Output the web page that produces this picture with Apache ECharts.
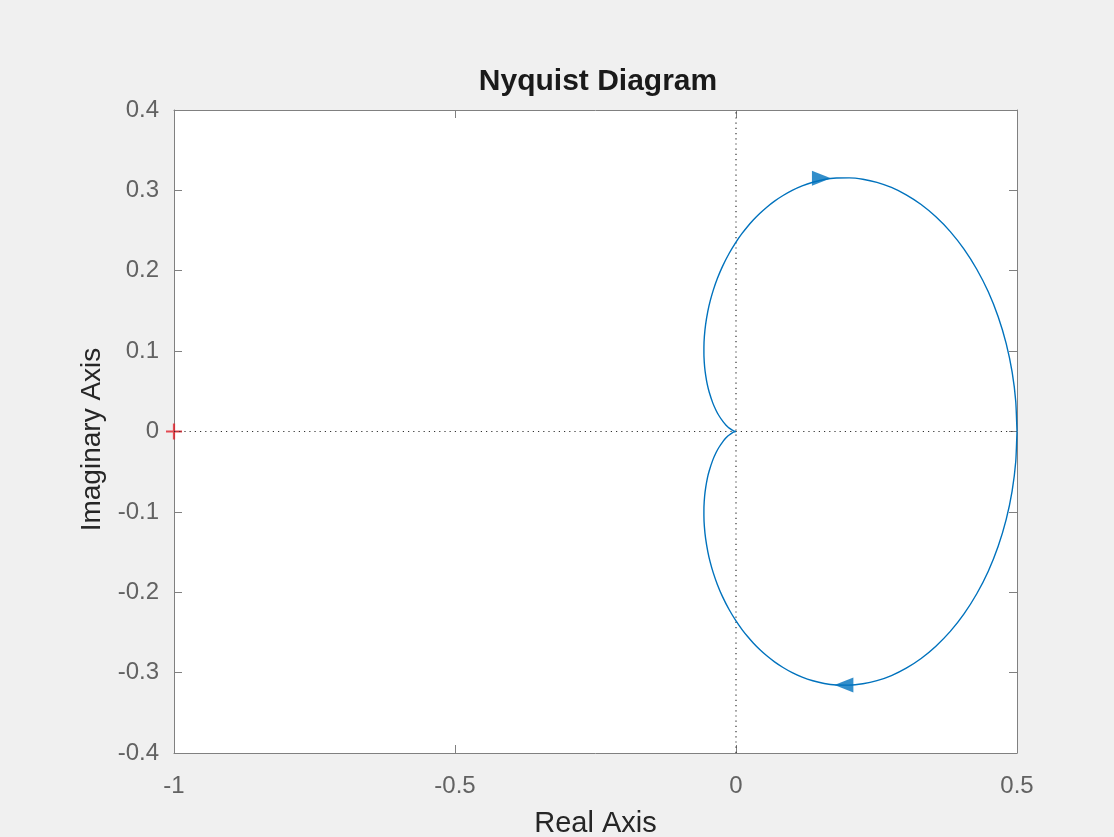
<!DOCTYPE html>
<html>
<head>
<meta charset="utf-8">
<script src="https://cdn.jsdelivr.net/npm/echarts@6/dist/echarts.min.js"></script>
<style>
html,body{margin:0;padding:0;background:#f0f0f0;}
#chart{width:1114px;height:837px;}
</style>
</head>
<body>
<div id="chart"></div>
<script>
// Lower branch (positive frequencies): from (0.5, 0) to the origin
const lowerBranch = [
  [0.5,0],[0.4978,-0.0374],[0.4913,-0.0741],[0.4808,-0.1094],[0.4665,-0.1428],[0.4489,-0.1738],
  [0.4284,-0.2019],[0.4057,-0.2269],[0.3813,-0.2487],[0.3557,-0.2671],[0.3294,-0.2824],[0.3029,-0.2944],
  [0.2766,-0.3036],[0.2508,-0.31],[0.2257,-0.3139],[0.2016,-0.3156],[0.1787,-0.3154],[0.157,-0.3135],
  [0.1367,-0.3101],[0.1177,-0.3056],[0.1,-0.3],[0.0837,-0.2936],[0.0686,-0.2866],[0.0548,-0.2791],
  [0.0422,-0.2712],[0.0307,-0.2631],[0.0203,-0.2548],[0.0108,-0.2464],[0,-0.2357],[-0.0123,-0.2215],
  [-0.024,-0.2055],[-0.0332,-0.1903],[-0.0404,-0.1759],[-0.0459,-0.1625],[-0.05,-0.15],[-0.0541,-0.133],
  [-0.0563,-0.1181],[-0.0571,-0.1049],[-0.057,-0.0934],[-0.0558,-0.0803],[-0.0538,-0.0692],[-0.0509,-0.0579],
  [-0.0476,-0.0488],[-0.0412,-0.0353],[-0.0354,-0.0262],[-0.0305,-0.0199],[-0.023,-0.0122],[-0.0177,-0.0079],
  [-0.014,-0.0054],[-0.0093,-0.0029],[-0.0066,-0.0017],[-0.0043,-0.0009],[-0.0025,-0.0004],[-0.0011,-0.0003],[0,0]
];
// Upper branch (negative frequencies): from the origin to (0.5, 0)
const upperBranch = [
  [0,0],[-0.0011,0.0003],[-0.0025,0.0004],[-0.0043,0.0009],[-0.0066,0.0017],[-0.0093,0.0029],
  [-0.014,0.0054],[-0.0177,0.0079],[-0.023,0.0122],[-0.0305,0.0199],[-0.0354,0.0262],[-0.0412,0.0353],
  [-0.0476,0.0488],[-0.0509,0.0579],[-0.0538,0.0692],[-0.0558,0.0803],[-0.057,0.0934],[-0.0571,0.1049],
  [-0.0563,0.1181],[-0.0541,0.133],[-0.05,0.15],[-0.0459,0.1625],[-0.0404,0.1759],[-0.0332,0.1903],
  [-0.024,0.2055],[-0.0123,0.2215],[0,0.2357],[0.0108,0.2464],[0.0203,0.2548],[0.0307,0.2631],
  [0.0422,0.2712],[0.0548,0.2791],[0.0686,0.2866],[0.0837,0.2936],[0.1,0.3],[0.1177,0.3056],
  [0.1367,0.3101],[0.157,0.3135],[0.1787,0.3154],[0.2016,0.3156],[0.2257,0.3139],[0.2508,0.31],
  [0.2766,0.3036],[0.3029,0.2944],[0.3294,0.2824],[0.3557,0.2671],[0.3813,0.2487],[0.4057,0.2269],
  [0.4284,0.2019],[0.4489,0.1738],[0.4665,0.1428],[0.4808,0.1094],[0.4913,0.0741],[0.4978,0.0374],[0.5,0]
];
const arrowRight = [[0.152, 0.315]];
const arrowLeft = [[0.192, -0.3154]];
const criticalPoint = [[-1, 0]];
const zeroH = [[-1, 0], [0.5, 0]];
const zeroV = [[0, -0.4], [0, 0.4]];
const xTicks = [-1, 0.5, 0.5];   // min, max, interval
const yTicks = [-0.4, 0.4, 0.1]; // min, max, interval

const FONT = '"Liberation Sans", Arial, Helvetica, sans-serif';
const axisGray = '#808080';
const labelGray = '#626262';
const blue = '#0072BD';

const chart = echarts.init(document.getElementById('chart'), null, {renderer: 'canvas'});

function axisCommon(extra) {
  return Object.assign({
    type: 'value',
    axisLine: {show: true, onZero: false, lineStyle: {color: axisGray, width: 1}},
    axisTick: {show: true, inside: true, length: 8, lineStyle: {color: axisGray}},
    splitLine: {show: false}
  }, extra);
}

const option = {
  backgroundColor: '#f0f0f0',
  animation: false,
  title: {
    text: 'Nyquist Diagram',
    left: 593, top: 62, textAlign: 'center',
    textStyle: {fontFamily: FONT, fontSize: 30, fontWeight: 'bold', color: '#1a1a1a'}
  },
  grid: {left: 174, top: 110, right: 97, bottom: 84, show: true, backgroundColor: '#ffffff',
    borderWidth: 0, containLabel: false, outerBoundsMode: 'none'},
  xAxis: [
    axisCommon({
      position: 'bottom', min: xTicks[0], max: xTicks[1], interval: xTicks[2],
      name: 'Real Axis', nameLocation: 'middle', nameGap: 56,
      nameTextStyle: {fontFamily: FONT, fontSize: 29, color: '#262626'},
      axisLabel: {fontFamily: FONT, fontSize: 24, color: labelGray, margin: 21,
        formatter: v => String(Math.round(v * 10) / 10)}
    }),
    axisCommon({
      position: 'top', min: xTicks[0], max: xTicks[1], interval: xTicks[2],
      axisLabel: {show: false}
    })
  ],
  yAxis: [
    axisCommon({
      position: 'left', min: yTicks[0], max: yTicks[1], interval: yTicks[2],
      name: 'Imaginary Axis', nameLocation: 'middle', nameGap: 64,
      nameTextStyle: {fontFamily: FONT, fontSize: 28, color: '#262626', padding: [0, 16, 0, 0]},
      axisLabel: {fontFamily: FONT, fontSize: 24, color: labelGray, margin: 15, padding: [4, 0, 0, 0],
        formatter: v => String(Math.round(v * 10) / 10)}
    }),
    axisCommon({
      position: 'right', min: yTicks[0], max: yTicks[1], interval: yTicks[2],
      axisLabel: {show: false}
    })
  ],
  series: [
    {type: 'line', data: zeroH, symbol: 'none', silent: true,
      lineStyle: {color: '#333', width: 1.2, type: [1.2, 4]}},
    {type: 'line', data: zeroV, symbol: 'none', silent: true,
      lineStyle: {color: '#333', width: 1.2, type: [1.2, 4]}},
    {type: 'line', data: lowerBranch, symbol: 'none', smooth: 0.15, lineStyle: {color: blue, width: 1.4}},
    {type: 'line', data: upperBranch, symbol: 'none', smooth: 0.15, lineStyle: {color: blue, width: 1.4}},
    {type: 'scatter', data: arrowRight, symbol: 'triangle', symbolSize: [15, 19], symbolRotate: -90,
      itemStyle: {color: blue}},
    {type: 'scatter', data: arrowLeft, symbol: 'triangle', symbolSize: [15, 19], symbolRotate: 90,
      itemStyle: {color: blue}},
    {type: 'scatter', data: criticalPoint, clip: false,
      symbol: 'path://M4.3,0H5.7V4.3H10V5.7H5.7V10H4.3V5.7H0V4.3H4.3Z', symbolSize: 16,
      itemStyle: {color: '#e0202a'}}
  ]
};
chart.setOption(option);
</script>
</body>
</html>
